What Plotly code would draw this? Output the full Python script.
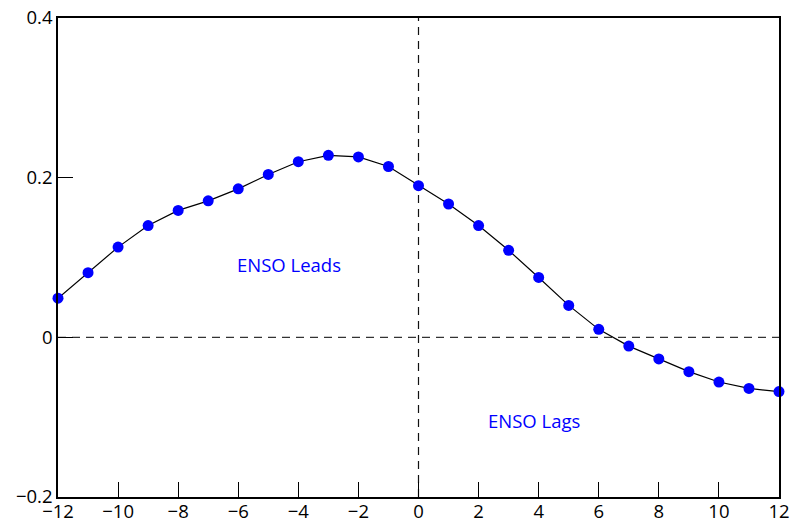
import plotly.graph_objects as go

lags = list(range(-12, 13))
corr = [0.049, 0.081, 0.113, 0.140, 0.159, 0.171, 0.186, 0.204, 0.220, 0.228, 0.226, 0.214,
        0.190, 0.167, 0.140, 0.109, 0.075, 0.040, 0.010, -0.011, -0.027, -0.043, -0.056, -0.064, -0.068]

x_ticks = list(range(-12, 13, 2))
x_labels = [str(v).replace("-", "\u2212") for v in x_ticks]
y_ticks = [-0.2, 0, 0.2, 0.4]
y_labels = ["\u22120.2", "0", "0.2", "0.4"]

font = dict(family="Open Sans, Noto Sans, sans-serif", size=18.5, color="black")

fig = go.Figure()
fig.add_trace(go.Scatter(
    x=lags, y=corr, mode="lines+markers",
    line=dict(color="black", width=1.2),
    marker=dict(color="#0000ff", size=11, line=dict(width=0)),
    showlegend=False, cliponaxis=False,
))

fig.add_hline(y=0, line=dict(color="#333333", width=1.2, dash="8px,6px"), layer="below")
fig.add_vline(x=0, line=dict(color="#111111", width=1.2, dash="8px,6px"), layer="below")

fig.add_annotation(x=-4.3, y=0.091, text="ENSO Leads", showarrow=False,
                   font=dict(family=font["family"], size=18.5, color="#0000ff"))
fig.add_annotation(x=3.85, y=-0.104, text="ENSO Lags", showarrow=False,
                   font=dict(family=font["family"], size=18.5, color="#0000ff"))

fig.update_xaxes(range=[-12, 12], tickvals=x_ticks, ticktext=x_labels,
                 ticks="inside", ticklen=15, tickwidth=1.2, tickcolor="black",
                 showline=True, linecolor="black", linewidth=1.5, mirror=True,
                 showgrid=False, zeroline=False, tickfont=font, automargin=False,
                 ticklabelstandoff=-3)
fig.update_yaxes(range=[-0.2, 0.4], tickvals=y_ticks, ticktext=y_labels,
                 ticks="inside", ticklen=15, tickwidth=1.2, tickcolor="black",
                 showline=True, linecolor="black", linewidth=1.5, mirror=True,
                 showgrid=False, zeroline=False, tickfont=font, automargin=False)

fig.update_layout(width=793, height=524, margin=dict(l=58, r=14, t=18, b=27),
                  paper_bgcolor="white", plot_bgcolor="white", font=font)

fig.write_html("out.html")
